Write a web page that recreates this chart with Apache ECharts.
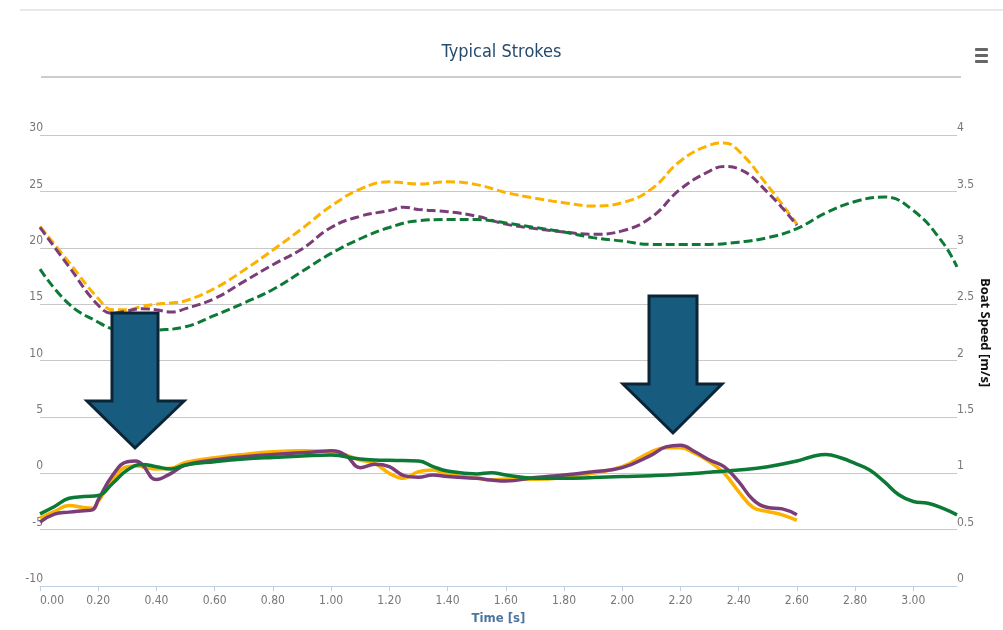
<!DOCTYPE html>
<html>
<head>
<meta charset="utf-8">
<title>Typical Strokes</title>
<script src="https://cdn.jsdelivr.net/npm/echarts@6/dist/echarts.min.js"></script>
<style>
    html, body { margin: 0; padding: 0; background: #fff; }
    #chart { width: 1003px; height: 630px; }
</style>
</head>
<body>
<div id="chart"></div>
<script>
// time ticks on the x axis [s]
var timeTicks = [0, 0.2, 0.4, 0.6, 0.8, 1.0, 1.2, 1.4, 1.6, 1.8, 2.0, 2.2, 2.4, 2.6, 2.8, 3.0];

// boat speed [m/s] (dashed, right axis)
var speedTimeShort = [0, 0.1, 0.2, 0.25, 0.3, 0.35, 0.4, 0.45, 0.5, 0.6, 0.7, 0.8, 0.9, 1.0, 1.1, 1.2, 1.25, 1.3,
    1.4, 1.5, 1.6, 1.7, 1.8, 1.9, 2.0, 2.1, 2.2, 2.3, 2.35, 2.4, 2.5, 2.6];
var speedYellow = [3.19, 2.87, 2.55, 2.45, 2.45, 2.48, 2.50, 2.51, 2.53, 2.64, 2.80, 2.98, 3.17, 3.37, 3.52, 3.585, 3.575, 3.565,
    3.585, 3.56, 3.49, 3.44, 3.40, 3.37, 3.40, 3.52, 3.77, 3.91, 3.93, 3.86, 3.55, 3.21];
var speedPurple = [3.18, 2.83, 2.49, 2.42, 2.44, 2.46, 2.45, 2.43, 2.46, 2.55, 2.70, 2.85, 2.99, 3.18, 3.28, 3.33, 3.36, 3.34,
    3.32, 3.28, 3.21, 3.17, 3.14, 3.12, 3.15, 3.27, 3.52, 3.68, 3.72, 3.70, 3.49, 3.20];
var speedTimeLong = [0, 0.1, 0.2, 0.25, 0.3, 0.4, 0.5, 0.6, 0.7, 0.8, 0.9, 1.0, 1.1, 1.2, 1.3, 1.4, 1.5, 1.6, 1.7, 1.8,
    1.9, 2.0, 2.1, 2.2, 2.3, 2.4, 2.5, 2.6, 2.7, 2.8, 2.9, 3.0, 3.1, 3.15];
var speedGreen = [2.81, 2.50, 2.34, 2.28, 2.26, 2.27, 2.30, 2.40, 2.51, 2.63, 2.79, 2.95, 3.08, 3.18, 3.24, 3.25, 3.25, 3.22, 3.18, 3.14,
    3.09, 3.06, 3.03, 3.03, 3.03, 3.05, 3.09, 3.17, 3.31, 3.41, 3.45, 3.33, 3.05, 2.83];

// force (solid, left axis)
var forceTimeShort = [0, 0.05, 0.1, 0.15, 0.18, 0.2, 0.25, 0.3, 0.33, 0.35, 0.4, 0.45, 0.5, 0.6, 0.7, 0.8, 0.9, 0.95,
    1.0, 1.05, 1.1, 1.15, 1.2, 1.25, 1.3, 1.35, 1.4, 1.5, 1.55, 1.6, 1.7, 1.8, 1.9, 2.0, 2.1, 2.15, 2.2, 2.25,
    2.3, 2.35, 2.4, 2.45, 2.5, 2.55, 2.6];
var forceYellow = [-3.97, -3.38, -2.85, -3.03, -3.1, -2.5, -0.59, 0.59, 0.65, 0.59, 0.38, 0.44, 0.97, 1.38, 1.68, 1.91, 2.0, 1.98,
    1.85, 1.62, 1.18, 0.88, 0.0, -0.44, 0.15, 0.29, -0.09, -0.44, -0.59, -0.5, -0.53, -0.38, 0.0, 0.59, 1.91, 2.26, 2.26, 1.76,
    1.03, 0.0, -1.62, -3.03, -3.38, -3.68, -4.18];
var forcePurple = [-4.32, -3.62, -3.44, -3.32, -3.24, -2.35, -0.15, 1.03, 1.09, 0.8, -0.55, 0.0, 0.74, 1.18, 1.47, 1.68, 1.82, 1.91,
    2.0, 1.6, 0.5, 0.8, 0.59, -0.2, -0.35, -0.15, -0.29, -0.44, -0.59, -0.68, -0.38, -0.15, 0.15, 0.5, 1.62, 2.35, 2.5, 1.91,
    1.18, 0.59, -0.74, -2.35, -3.03, -3.15, -3.68];
var forceTimeLong = [0, 0.05, 0.1, 0.15, 0.2, 0.25, 0.3, 0.35, 0.4, 0.45, 0.5, 0.6, 0.7, 0.8, 0.9, 1.0, 1.1, 1.2, 1.3, 1.35,
    1.4, 1.5, 1.55, 1.6, 1.7, 1.8, 1.9, 2.0, 2.1, 2.2, 2.3, 2.4, 2.5, 2.6, 2.65, 2.7, 2.75, 2.8, 2.85, 2.9, 2.95,
    3.0, 3.05, 3.1, 3.15];
var forceGreen = [-3.59, -2.94, -2.21, -2.06, -1.97, -0.88, 0.29, 0.79, 0.59, 0.38, 0.74, 1.03, 1.26, 1.41, 1.53, 1.62, 1.26, 1.15, 1.1, 0.6,
    0.2, -0.06, 0.06, -0.15, -0.44, -0.44, -0.38, -0.29, -0.21, -0.09, 0.09, 0.29, 0.59, 1.09, 1.47, 1.68, 1.38, 0.88, 0.29, -0.74, -1.9,
    -2.5, -2.65, -3.09, -3.68];

var COLORS = { yellow: '#FDB200', purple: '#7B3D79', green: '#0C7A36' };
var NARROW = "'Liberation Sans Narrow', 'DejaVu Sans Condensed', sans-serif";

(function () {
    "use strict";

    var chart = echarts.init(document.getElementById('chart'), null, { renderer: 'canvas' });

    var pairs = function (xs, ys) {
        var out = [], i;
        for (i = 0; i < xs.length; i++) {
            out.push([xs[i], ys[i]]);
        }
        return out;
    };

    var line = function (name, xs, ys, color, axis, dashed) {
        return {
            name: name,
            type: 'line',
            yAxisIndex: axis,
            data: pairs(xs, ys),
            smooth: 0.45,
            showSymbol: false,
            symbol: 'none',
            lineStyle: {
                color: color,
                width: dashed ? 3 : 3.5,
                type: dashed ? [9, 4] : 'solid'
            },
            z: dashed ? 2 : 3
        };
    };

    // big arrows drawn over the plot
    var arrow = function (l, r, top, wy, hl, hr, tx, ty) {
        return {
            type: 'polygon',
            z: 100,
            shape: { points: [[l, top], [r, top], [r, wy], [hr, wy], [tx, ty], [hl, wy], [l, wy]] },
            style: { fill: '#175C7E', stroke: '#0C2536', lineWidth: 3, lineJoin: 'miter' }
        };
    };

    var option = {
        animation: false,
        backgroundColor: '#fff',
        title: {
            text: 'Typical Strokes',
            left: 'center',
            top: 38,
            textStyle: { color: '#274B6D', fontSize: 18, fontWeight: 'normal', fontFamily: NARROW }
        },
        grid: { left: 40, right: 46, top: 135, bottom: 42, containLabel: false },
        xAxis: {
            type: 'value',
            min: 0,
            max: 3.15,
            interval: 0.2,
            name: 'Time [s]',
            nameLocation: 'middle',
            nameGap: 25,
            nameTextStyle: { color: '#4D759E', fontSize: 13, fontWeight: 'bold', fontFamily: NARROW },
            axisLine: { onZero: false, lineStyle: { color: '#C0D0E0', width: 1 } },
            axisTick: { show: true, length: 5, customValues: timeTicks, lineStyle: { color: '#C0D0E0' } },
            axisLabel: {
                customValues: timeTicks,
                alignMinLabel: 'left',
                margin: 9,
                color: '#777',
                fontSize: 12,
                fontFamily: NARROW,
                formatter: function (v) { return v.toFixed(2); }
            },
            splitLine: { show: false }
        },
        yAxis: [{
            type: 'value',
            min: -10,
            max: 30,
            interval: 5,
            axisLine: { show: false },
            axisTick: { show: false },
            axisLabel: { margin: -3, color: '#777', fontSize: 12, fontFamily: NARROW, verticalAlign: 'bottom', padding: [0, 0, 1, 0] },
            splitLine: { lineStyle: { color: '#C8C8C8', width: 1 } }
        }, {
            type: 'value',
            min: 0,
            max: 4,
            interval: 0.5,
            position: 'right',
            name: 'Boat Speed [m/s]',
            nameLocation: 'middle',
            nameRotate: -90,
            nameGap: 21,
            nameMoveOverlap: false,
            nameTextStyle: { color: '#111', fontSize: 13, fontWeight: 'bold', fontFamily: "'Open Sans', sans-serif", padding: [0, 56, 0, 0] },
            axisLine: { show: false },
            axisTick: { show: false },
            axisLabel: { margin: 0, color: '#777', fontSize: 12, fontFamily: NARROW, verticalAlign: 'bottom', padding: [0, 0, 1, 0] },
            splitLine: { show: false }
        }],
        series: [
            line('Speed A', speedTimeShort, speedYellow, COLORS.yellow, 1, true),
            line('Speed B', speedTimeShort, speedPurple, COLORS.purple, 1, true),
            line('Speed C', speedTimeLong, speedGreen, COLORS.green, 1, true),
            line('Force A', forceTimeShort, forceYellow, COLORS.yellow, 0, false),
            line('Force B', forceTimeShort, forcePurple, COLORS.purple, 0, false),
            line('Force C', forceTimeLong, forceGreen, COLORS.green, 0, false)
        ],
        graphic: [
            { type: 'line', shape: { x1: 20, y1: 10, x2: 1003, y2: 10 }, style: { stroke: '#E8E8E8', lineWidth: 2 } },
            { type: 'line', shape: { x1: 41, y1: 77, x2: 961, y2: 77 }, style: { stroke: '#CCCCCC', lineWidth: 2 } },
            { type: 'rect', shape: { x: 975, y: 48, width: 13, height: 3, r: 1 }, style: { fill: '#666' } },
            { type: 'rect', shape: { x: 975, y: 54, width: 13, height: 3, r: 1 }, style: { fill: '#666' } },
            { type: 'rect', shape: { x: 975, y: 60, width: 13, height: 3, r: 1 }, style: { fill: '#666' } },
            arrow(112, 158, 313, 401, 87, 184, 135, 448),
            arrow(649, 697, 296, 384, 623, 722, 673, 433)
        ]
    };

    chart.setOption(option);
})();
</script>
</body>
</html>
